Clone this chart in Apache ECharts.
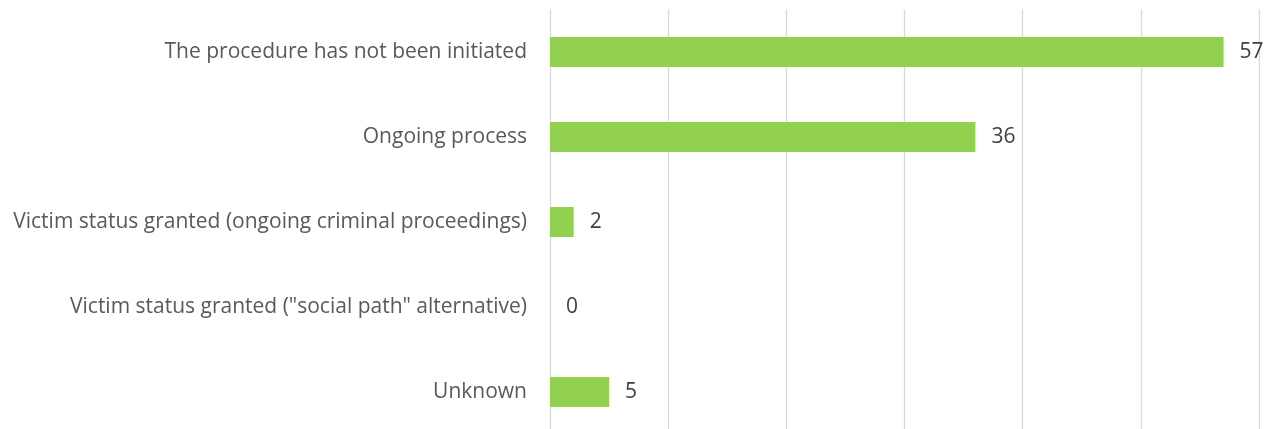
<!DOCTYPE html>
<html>
<head>
<meta charset="utf-8">
<style>
  html, body { margin: 0; padding: 0; background: #ffffff; }
  #chart { width: 1275px; height: 429px; }
</style>
<script src="https://cdn.jsdelivr.net/npm/echarts@6/dist/echarts.min.js"></script>
</head>
<body>
<div id="chart"></div>
<script>
// Status of victim procedures (counts)
const categories = [
  'The procedure has not been initiated',
  'Ongoing process',
  'Victim status granted (ongoing criminal proceedings)',
  'Victim status granted ("social path" alternative)',
  'Unknown'
];
const values = [57, 36, 2, 0, 5];

const axisMax = 60;
const axisStep = 10;

const chart = echarts.init(document.getElementById('chart'));
chart.setOption({
  animation: false,
  grid: {
    left: 550, top: 9.5, width: 709, height: 425,
    containLabel: false,
    outerBoundsMode: 'none'
  },
  xAxis: {
    type: 'value',
    min: 0,
    max: axisMax,
    interval: axisStep,
    axisLabel: { show: false },
    axisLine: { show: false },
    axisTick: { show: false },
    splitLine: { show: true, lineStyle: { color: '#d9d9d9', width: 1.3 } }
  },
  yAxis: {
    type: 'category',
    inverse: true,
    data: categories,
    axisLine: { show: false },
    axisTick: { show: false },
    axisLabel: {
      margin: 23,
      color: '#595959',
      fontFamily: 'Open Sans',
      fontSize: 21
    }
  },
  series: [{
    type: 'bar',
    data: values,
    barWidth: 30,
    itemStyle: { color: '#92d050' },
    label: {
      show: true,
      position: 'right',
      distance: 16,
      color: '#404040',
      fontFamily: 'Open Sans',
      fontSize: 21
    }
  }]
});
</script>
</body>
</html>
